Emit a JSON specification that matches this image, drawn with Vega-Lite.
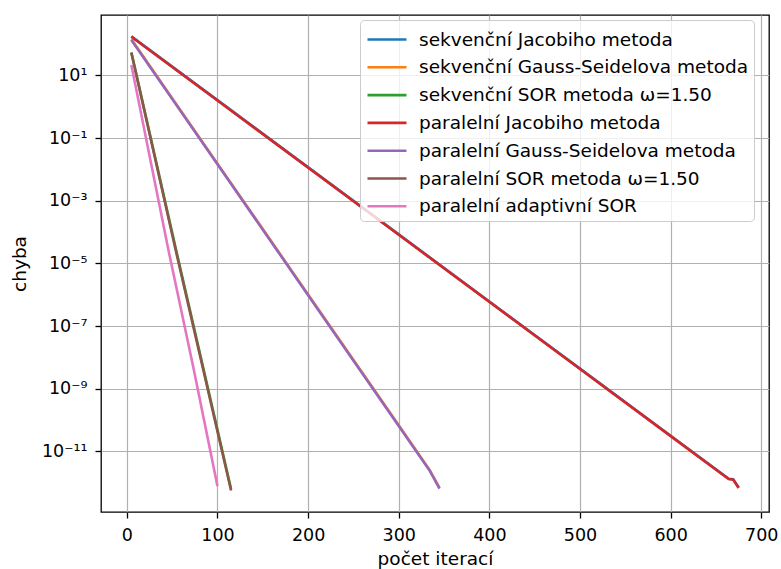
{
  "$schema": "https://vega.github.io/schema/vega-lite/v6.json",
  "width": 668,
  "height": 497,
  "autosize": {"type": "none"},
  "padding": {"left": 101, "top": 15, "right": 12, "bottom": 57},
  "config": {
    "font": "DejaVu Sans",
    "view": {"stroke": "black", "strokeWidth": 1.3},
    "axis": {
      "labelFont": "DejaVu Sans", "labelFontSize": 17.5, "labelColor": "black",
      "titleFont": "DejaVu Sans", "titleFontSize": 18.5, "titleFontWeight": "normal", "titleColor": "black",
      "tickColor": "black", "tickSize": 6, "tickWidth": 1.3, "domain": false,
      "gridColor": "#b0b0b0", "gridWidth": 1.2, "gridOpacity": 1, "labelPadding": 8
    }
  },
  "data": {
    "values": [
      {"metoda": "sekvenční Jacobiho metoda", "iterace": 5, "chyba": 175},
      {"metoda": "sekvenční Jacobiho metoda", "iterace": 100, "chyba": 1.62},
      {"metoda": "sekvenční Jacobiho metoda", "iterace": 300, "chyba": 8.4e-5},
      {"metoda": "sekvenční Jacobiho metoda", "iterace": 500, "chyba": 4.37e-9},
      {"metoda": "sekvenční Jacobiho metoda", "iterace": 600, "chyba": 3.14e-11},
      {"metoda": "sekvenční Jacobiho metoda", "iterace": 650, "chyba": 2.68e-12},
      {"metoda": "sekvenční Jacobiho metoda", "iterace": 664, "chyba": 1.34e-12},
      {"metoda": "sekvenční Jacobiho metoda", "iterace": 669, "chyba": 1.29e-12},
      {"metoda": "sekvenční Jacobiho metoda", "iterace": 675, "chyba": 7.0e-13},
      {"metoda": "sekvenční Gauss-Seidelova metoda", "iterace": 5, "chyba": 142},
      {"metoda": "sekvenční Gauss-Seidelova metoda", "iterace": 100, "chyba": 0.0152},
      {"metoda": "sekvenční Gauss-Seidelova metoda", "iterace": 200, "chyba": 1.01e-6},
      {"metoda": "sekvenční Gauss-Seidelova metoda", "iterace": 300, "chyba": 6.75e-11},
      {"metoda": "sekvenční Gauss-Seidelova metoda", "iterace": 334, "chyba": 2.57e-12},
      {"metoda": "sekvenční Gauss-Seidelova metoda", "iterace": 345, "chyba": 6.8e-13},
      {"metoda": "sekvenční SOR metoda ω=1.50", "iterace": 5, "chyba": 54},
      {"metoda": "sekvenční SOR metoda ω=1.50", "iterace": 54, "chyba": 2.95e-5},
      {"metoda": "sekvenční SOR metoda ω=1.50", "iterace": 85, "chyba": 3.8e-9},
      {"metoda": "sekvenční SOR metoda ω=1.50", "iterace": 115, "chyba": 6.3e-13},
      {"metoda": "paralelní Jacobiho metoda", "iterace": 5, "chyba": 170},
      {"metoda": "paralelní Jacobiho metoda", "iterace": 100, "chyba": 1.57},
      {"metoda": "paralelní Jacobiho metoda", "iterace": 300, "chyba": 8.15e-5},
      {"metoda": "paralelní Jacobiho metoda", "iterace": 500, "chyba": 4.24e-9},
      {"metoda": "paralelní Jacobiho metoda", "iterace": 600, "chyba": 3.05e-11},
      {"metoda": "paralelní Jacobiho metoda", "iterace": 650, "chyba": 2.6e-12},
      {"metoda": "paralelní Jacobiho metoda", "iterace": 664, "chyba": 1.3e-12},
      {"metoda": "paralelní Jacobiho metoda", "iterace": 669, "chyba": 1.25e-12},
      {"metoda": "paralelní Jacobiho metoda", "iterace": 675, "chyba": 6.8e-13},
      {"metoda": "paralelní Gauss-Seidelova metoda", "iterace": 5, "chyba": 135},
      {"metoda": "paralelní Gauss-Seidelova metoda", "iterace": 100, "chyba": 0.01452},
      {"metoda": "paralelní Gauss-Seidelova metoda", "iterace": 200, "chyba": 9.66e-7},
      {"metoda": "paralelní Gauss-Seidelova metoda", "iterace": 300, "chyba": 6.43e-11},
      {"metoda": "paralelní Gauss-Seidelova metoda", "iterace": 334, "chyba": 2.45e-12},
      {"metoda": "paralelní Gauss-Seidelova metoda", "iterace": 345, "chyba": 6.46e-13},
      {"metoda": "paralelní SOR metoda ω=1.50", "iterace": 5, "chyba": 52.5},
      {"metoda": "paralelní SOR metoda ω=1.50", "iterace": 54, "chyba": 2.57e-5},
      {"metoda": "paralelní SOR metoda ω=1.50", "iterace": 85, "chyba": 3.28e-9},
      {"metoda": "paralelní SOR metoda ω=1.50", "iterace": 115, "chyba": 5.62e-13},
      {"metoda": "paralelní adaptivní SOR", "iterace": 5, "chyba": 21.4},
      {"metoda": "paralelní adaptivní SOR", "iterace": 46, "chyba": 2.57e-5},
      {"metoda": "paralelní adaptivní SOR", "iterace": 73, "chyba": 5.37e-9},
      {"metoda": "paralelní adaptivní SOR", "iterace": 100, "chyba": 7.76e-13}
    ]
  },
  "mark": {"type": "line", "strokeWidth": 2.6, "clip": true},
  "encoding": {
    "x": {
      "field": "iterace", "type": "quantitative",
      "scale": {"domain": [-28.5, 708.5], "nice": false, "zero": false},
      "axis": {"values": [0, 100, 200, 300, 400, 500, 600, 700], "title": "počet iterací", "titlePadding": 6}
    },
    "y": {
      "field": "chyba", "type": "quantitative",
      "scale": {"type": "log", "domain": [1.159e-13, 843.3], "nice": false},
      "axis": {
        "values": [10, 0.1, 0.001, 0.00001, 1e-7, 1e-9, 1e-11],
        "labelExpr": "datum.value > 1 ? '10¹' : datum.value > 1e-2 ? '10⁻¹' : datum.value > 1e-4 ? '10⁻³' : datum.value > 1e-6 ? '10⁻⁵' : datum.value > 1e-8 ? '10⁻⁷' : datum.value > 1e-10 ? '10⁻⁹' : '10⁻¹¹'",
        "title": "chyba", "titlePadding": 12
      }
    },
    "color": {
      "field": "metoda", "type": "nominal",
      "scale": {
        "domain": ["sekvenční Jacobiho metoda", "sekvenční Gauss-Seidelova metoda", "sekvenční SOR metoda ω=1.50", "paralelní Jacobiho metoda", "paralelní Gauss-Seidelova metoda", "paralelní SOR metoda ω=1.50", "paralelní adaptivní SOR"],
        "range": ["#1f77b4", "#ff7f0e", "#2ca02c", "#d62728", "#9467bd", "#8c564b", "#e377c2"]
      },
      "legend": {
        "orient": "none", "legendX": 259, "legendY": 5, "title": null,
        "symbolType": "M-0.923,0H2.077", "symbolSize": 676, "symbolStrokeWidth": 2.6,
        "labelFont": "DejaVu Sans", "labelFontSize": 18.5, "labelColor": "black", "labelLimit": 600,
        "fillColor": "rgba(255,255,255,0.8)", "strokeColor": "#cccccc", "cornerRadius": 4,
        "padding": 5, "rowPadding": 3.8, "labelOffset": 25, "offset": 0
      }
    }
  }
}
